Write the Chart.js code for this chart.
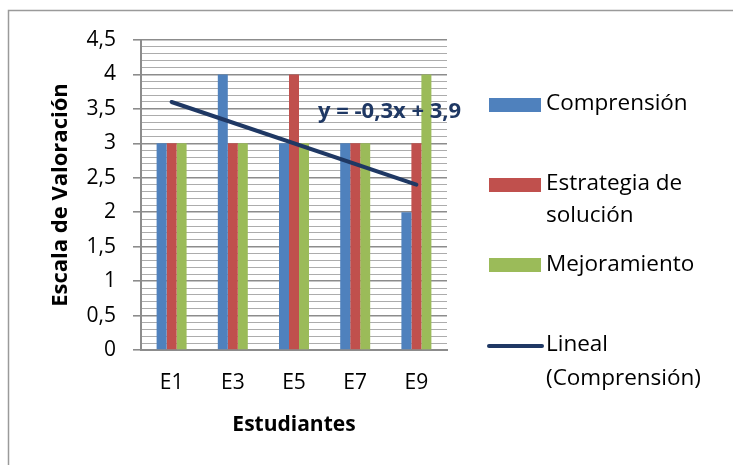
<!DOCTYPE html>
<html>
<head>
<meta charset="utf-8">
<script src="https://cdn.jsdelivr.net/npm/chart.js@4/dist/chart.umd.min.js"></script>
<style>
  html, body { margin: 0; padding: 0; background: #fff; }
  #wrap { width: 733px; height: 465px; }
</style>
</head>
<body>
<div id="wrap"><canvas id="chartEval" width="733" height="465"></canvas></div>
<script>
var categories = ['E1', 'E3', 'E5', 'E7', 'E9'];
var comprension = [3, 4, 3, 3, 2];
var estrategia = [3, 3, 4, 3, 3];
var mejoramiento = [3, 3, 3, 3, 4];
// trend line: 3.6 at E1 down to 2.4 at E9
var tendencia = [3.6, null, null, null, 2.4];
var trendLabel = 'y = -0,3x + 3,9';

var FONT = '"Open Sans", "Noto Sans", sans-serif';

function isMajor(v) {
  return Math.abs(v * 2 - Math.round(v * 2)) < 1e-6;
}

var frame = {
  id: 'frame',
  beforeDraw: function(chart) {
    var c = chart.ctx;
    c.save();
    c.fillStyle = '#fff';
    c.fillRect(0, 0, chart.width, chart.height);
    c.strokeStyle = '#9a9a9a';
    c.lineWidth = 1.5;
    c.strokeRect(8.5, 10.5, 740, 470);
    c.restore();
  }
};

var extras = {
  id: 'extras',
  afterDatasetsDraw: function(chart) {
    var c = chart.ctx;
    var a = chart.chartArea;
    c.save();
    c.font = 'bold 22px ' + FONT;
    c.fillStyle = '#1F3864';
    c.textAlign = 'left';
    c.textBaseline = 'middle';
    c.fillText(trendLabel, a.left + 177, 112);
    c.restore();
  },
  afterDraw: function(chart) {
    var c = chart.ctx;
    c.save();
    c.font = '22.5px ' + FONT;
    c.textBaseline = 'middle';
    c.textAlign = 'left';
    var bx = 489, tx = 546;
    c.fillStyle = '#4F81BD'; c.fillRect(bx, 98, 52, 14);
    c.fillStyle = '#C0504D'; c.fillRect(bx, 178, 52, 14);
    c.fillStyle = '#9BBB59'; c.fillRect(bx, 258, 52, 14);
    c.strokeStyle = '#1F3864'; c.lineWidth = 4; c.lineCap = 'round';
    c.beginPath(); c.moveTo(bx, 346); c.lineTo(bx + 53, 346); c.stroke();
    c.fillStyle = '#000';
    c.fillText('Comprensión', tx, 104);
    c.fillText('Estrategia de', tx, 184);
    c.fillText('solución', tx, 216);
    c.fillText('Mejoramiento', tx, 265);
    c.fillText('Lineal', tx, 345);
    c.fillText('(Comprensión)', tx, 379);
    c.restore();
  }
};

new Chart(document.getElementById('chartEval'), {
  type: 'bar',
  data: {
    labels: categories,
    datasets: [{
      label: 'Comprensión',
      data: comprension,
      backgroundColor: '#4F81BD',
      order: 2
    }, {
      label: 'Estrategia de solución',
      data: estrategia,
      backgroundColor: '#C0504D',
      order: 2
    }, {
      label: 'Mejoramiento',
      data: mejoramiento,
      backgroundColor: '#9BBB59',
      order: 2
    }, {
      type: 'line',
      label: 'Lineal (Comprensión)',
      data: tendencia,
      borderColor: '#1F3864',
      borderWidth: 4,
      borderCapStyle: 'round',
      pointRadius: 0,
      spanGaps: true,
      order: 1
    }]
  },
  options: {
    responsive: false,
    animation: false,
    categoryPercentage: 0.49,
    barPercentage: 1,
    layout: { padding: { left: 44, right: 286, top: 40, bottom: 23 } },
    plugins: {
      legend: { display: false },
      tooltip: { enabled: false }
    },
    scales: {
      x: {
        grid: { display: false, drawTicks: false },
        border: { color: '#8c8c8c', width: 2 },
        ticks: { color: '#000', padding: 20, font: { family: FONT, size: 21 } },
        title: {
          display: true,
          text: 'Estudiantes',
          color: '#000',
          font: { family: FONT, size: 21, weight: 'bold' }
        },
        afterFit: function(s) { s.height = 92; }
      },
      y: {
        min: 0,
        max: 4.5,
        border: { color: '#8c8c8c', width: 2 },
        grid: {
          tickLength: 8,
          color: function(ctx) { return isMajor(ctx.tick.value) ? '#8c8c8c' : '#acacac'; },
          lineWidth: function(ctx) { return isMajor(ctx.tick.value) ? 1.6 : 1; },
          tickColor: function(ctx) { return isMajor(ctx.tick.value) ? '#8c8c8c' : 'rgba(0,0,0,0)'; }
        },
        ticks: {
          stepSize: 0.1,
          autoSkip: false,
          color: '#000',
          padding: 17,
          font: { family: FONT, size: 21 },
          callback: function(v) {
            if (!isMajor(v)) return '';
            return String(Math.round(v * 10) / 10).replace('.', ',');
          }
        },
        title: {
          display: true,
          text: 'Escala de Valoración',
          color: '#000',
          font: { family: FONT, size: 22, weight: 'bold' }
        },
        afterFit: function(s) { s.width = 97; }
      }
    }
  },
  plugins: [frame, extras]
});
</script>
</body>
</html>
